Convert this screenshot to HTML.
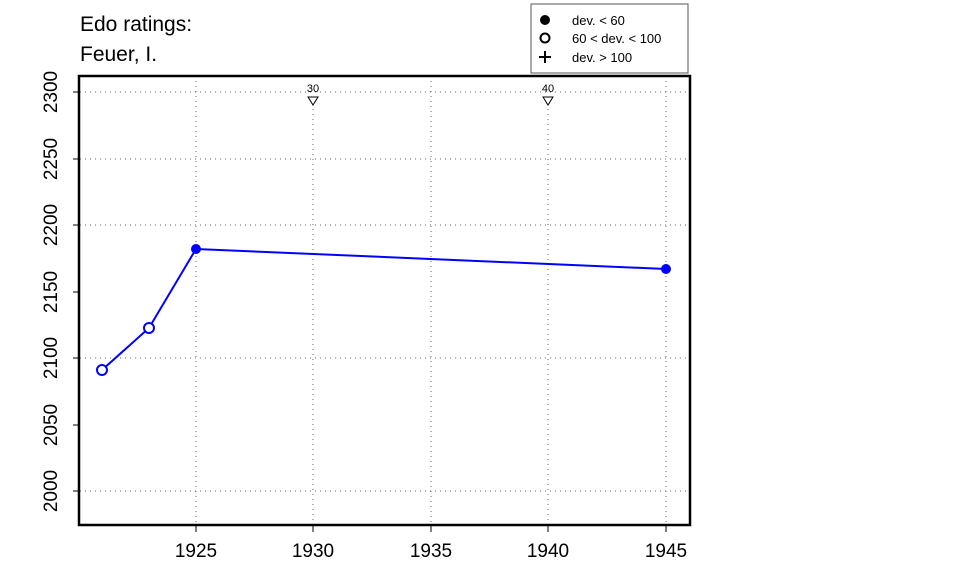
<!DOCTYPE html>
<html><head><meta charset="utf-8"><style>body{margin:0;background:#fff}</style></head><body>
<svg width="960" height="576" xmlns="http://www.w3.org/2000/svg" font-family="Liberation Sans, Arial, sans-serif">
<rect width="960" height="576" fill="#fff"/>
<text x="80" y="31" font-size="21">Edo ratings:</text>
<text x="80" y="61" font-size="21">Feuer, I.</text>
<rect x="531" y="4" width="157" height="69" fill="#fff" stroke="#555" stroke-width="1"/>
<circle cx="545" cy="20" r="5" fill="#000"/>
<circle cx="545" cy="38" r="4.5" fill="none" stroke="#000" stroke-width="2"/>
<path d="M539 57h12M545 51v12" stroke="#000" stroke-width="2"/>
<text x="572" y="25" font-size="13">dev. &lt; 60</text>
<text x="572" y="43" font-size="13">60 &lt; dev. &lt; 100</text>
<text x="572" y="62" font-size="13">dev. &gt; 100</text>
<g stroke="#666" stroke-width="1" stroke-dasharray="1,4">
<path d="M80 92H690M80 159H690M80 225H690M80 358H690M80 491H690"/>
<path d="M196 76V525M313 104V525M431 76V525M548 104V525M666 76V525"/>
</g>
<rect x="79" y="76" width="611" height="449" fill="none" stroke="#000" stroke-width="2.5"/>
<g stroke="#000" stroke-width="1">
<path d="M73 92H79M73 159H79M73 225H79M73 292H79M73 358H79M73 425H79M73 491H79"/>
<path d="M196 525V532M313 525V532M431 525V532M548 525V532M666 525V532"/>
</g>
<g font-size="19" text-anchor="middle">
<text transform="translate(57 92) rotate(-90)">2300</text>
<text transform="translate(57 159) rotate(-90)">2250</text>
<text transform="translate(57 225) rotate(-90)">2200</text>
<text transform="translate(57 292) rotate(-90)">2150</text>
<text transform="translate(57 358) rotate(-90)">2100</text>
<text transform="translate(57 425) rotate(-90)">2050</text>
<text transform="translate(57 491) rotate(-90)">2000</text>
<text x="196" y="557">1925</text><text x="313" y="557">1930</text><text x="431" y="557">1935</text><text x="548" y="557">1940</text><text x="666" y="557">1945</text>
</g>
<g font-size="11" text-anchor="middle"><text x="313" y="92">30</text><text x="548" y="92">40</text></g>
<path d="M308 97h10l-5 8z M543 97h10l-5 8z" fill="none" stroke="#000" stroke-width="1"/>
<polyline points="102,370 149,328 196,249 666,269" fill="none" stroke="#0000ff" stroke-width="2"/>
<circle cx="102" cy="370" r="5" fill="#fff" stroke="#0000ff" stroke-width="2"/>
<circle cx="149" cy="328" r="5" fill="#fff" stroke="#0000ff" stroke-width="2"/>
<circle cx="196" cy="249" r="5" fill="#0000ff"/>
<circle cx="666" cy="269" r="5" fill="#0000ff"/>
</svg>
</body></html>
